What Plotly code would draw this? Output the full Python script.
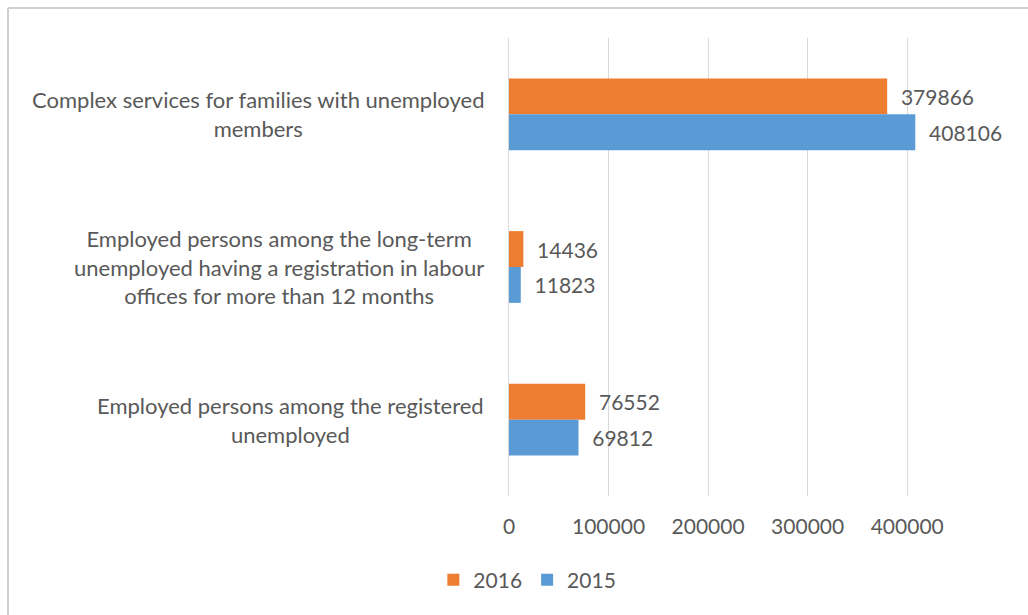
import plotly.graph_objects as go

# Categories listed top to bottom
categories = [
    "Complex services for families with unemployed<br>members",
    "Employed persons among the long-term<br>unemployed having a registration in labour<br>offices for more than 12 months",
    "Employed persons among the registered<br>unemployed",
]
values_2016 = [379866, 14436, 76552]
values_2015 = [408106, 11823, 69812]
x_ticks = [0, 100000, 200000, 300000, 400000]

ORANGE = "#ED7D31"
BLUE = "#5B9BD5"
TEXT = "#595959"
GRID = "#D9D9D9"
FONT = "Lato"

W, H = 1028, 615
ML, MR, MT, MB = 509, 71, 38, 119
plot_w = W - ML - MR
plot_h = H - MT - MB

fig = go.Figure()
for name, vals, col in [("2016", values_2016, ORANGE), ("2015", values_2015, BLUE)]:
    fig.add_trace(go.Bar(
        name=name, y=categories, x=vals, orientation="h",
        marker=dict(color=col, line=dict(width=0)),
        texttemplate="\u00a0\u00a0%{x:d}", textposition="outside",
        textfont=dict(family=FONT, size=21, color=TEXT),
        constraintext="none", cliponaxis=False,
    ))

# Category labels: right-aligned block, lines centred
for cat in categories:
    fig.add_annotation(
        x=0, xref="paper", y=cat, yref="y", text=cat,
        xanchor="right", yanchor="middle", align="center",
        xshift=-23, showarrow=False,
        font=dict(family=FONT, size=22, color=TEXT),
    )

# Chart frame (top and left edges)
px = lambda v: (v - ML) / plot_w
py = lambda v: (H - MB - v) / plot_h
fig.add_shape(type="line", xref="paper", yref="paper",
              x0=px(8), x1=px(W + 5), y0=py(8), y1=py(8),
              line=dict(color="#D0D0D0", width=2))
fig.add_shape(type="line", xref="paper", yref="paper",
              x0=px(8), x1=px(8), y0=py(8), y1=py(H + 5),
              line=dict(color="#D0D0D0", width=2))

fig.update_layout(
    width=W, height=H,
    margin=dict(l=ML, r=MR, t=MT, b=MB, pad=0),
    paper_bgcolor="white", plot_bgcolor="white",
    barmode="group", bargap=0.53, bargroupgap=0,
    font=dict(family=FONT, size=21, color=TEXT),
    showlegend=True,
    legend=dict(
        orientation="h", xref="container", yref="container",
        x=0.513, xanchor="center", y=1 - 580 / H, yanchor="middle",
        font=dict(family=FONT, size=21, color=TEXT),
        itemwidth=30, traceorder="normal",
    ),
    xaxis=dict(
        range=[0, 450000], tickvals=x_ticks, ticktext=[str(v) for v in x_ticks],
        showgrid=True, gridcolor=GRID, gridwidth=1,
        zeroline=False, showline=False, ticks="",
        ticklabelstandoff=16,
        tickfont=dict(family=FONT, size=21, color=TEXT),
    ),
    yaxis=dict(
        autorange="reversed", showticklabels=False, showgrid=False,
        zeroline=False, showline=True, linecolor=GRID, linewidth=1, ticks="",
    ),
)

fig.write_html("out.html")
